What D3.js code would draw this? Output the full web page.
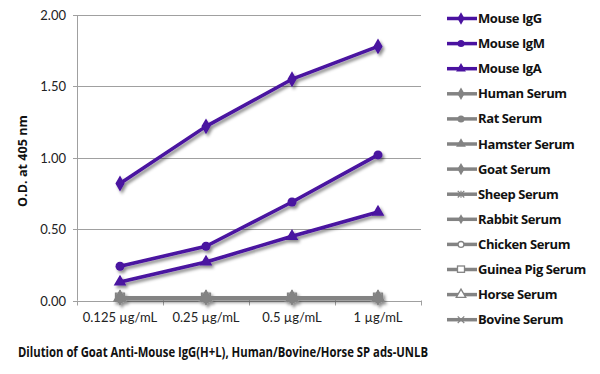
<!DOCTYPE html>
<html>
<head>
<meta charset="utf-8">
<script src="https://cdn.jsdelivr.net/npm/d3@7"></script>
<style>
  body { margin: 0; background: #fff; }
  svg { display: block; font-family: "Lato", "Open Sans", sans-serif; }
  .bold { font-family: "Open Sans", sans-serif; font-weight: bold; }
</style>
</head>
<body>
<svg id="canvas" width="600" height="374"></svg>
<script>
// dilutions on the x axis
let dilutions = ['0.125 µg/mL', '0.25 µg/mL', '0.5 µg/mL', '1 µg/mL'];
let yTicks = [0, 0.5, 1.0, 1.5, 2.0];

// series names, in legend order
let seriesNames = ['Mouse IgG', 'Mouse IgM', 'Mouse IgA', 'Human Serum', 'Rat Serum',
  'Hamster Serum', 'Goat Serum', 'Sheep Serum', 'Rabbit Serum', 'Chicken Serum',
  'Guinea Pig Serum', 'Horse Serum', 'Bovine Serum'];

// O.D. readings
let mouseIgG = [0.82, 1.22, 1.55, 1.78];
let mouseIgM = [0.24, 0.38, 0.69, 1.02];
let mouseIgA = [0.13, 0.27, 0.45, 0.62];
let humanSerum = [0.02, 0.02, 0.02, 0.02];
let ratSerum = [0.02, 0.02, 0.02, 0.02];
let hamsterSerum = [0.02, 0.02, 0.02, 0.02];
let goatSerum = [0.02, 0.02, 0.02, 0.02];
let sheepSerum = [0.02, 0.02, 0.02, 0.02];
let rabbitSerum = [0.02, 0.02, 0.02, 0.02];
let chickenSerum = [0.02, 0.02, 0.02, 0.02];
let guineaPigSerum = [0.02, 0.02, 0.02, 0.02];
let horseSerum = [0.02, 0.02, 0.02, 0.02];
let bovineSerum = [0.02, 0.02, 0.02, 0.02];

let seriesValues = [mouseIgG, mouseIgM, mouseIgA, humanSerum, ratSerum, hamsterSerum,
  goatSerum, sheepSerum, rabbitSerum, chickenSerum, guineaPigSerum, horseSerum, bovineSerum];
let markers = ['diamond', 'circle', 'triangle', 'diamond', 'circle', 'triangle', 'diamond',
  'asterisk', 'smallDiamond', 'openCircle', 'openSquare', 'openTriangle', 'cross'];

let purple = '#4a12a0';
let grey = '#838383';

let canvas = d3.select('#canvas');

let margin = {left: 77, right: 421, top: 15, bottom: 300.5};

let xScale = d3.scaleBand().domain(dilutions).range([margin.left, margin.right]);
let yScale = d3.scaleLinear().domain([0, 2]).range([margin.bottom, margin.top]);

// shadow under lines
let defs = canvas.append('defs');
defs.append('filter').attr('id', 'shadow')
  .attr('x', '-10%').attr('y', '-10%').attr('width', '130%').attr('height', '130%')
  .append('feDropShadow')
  .attr('dx', 2).attr('dy', 2.5).attr('stdDeviation', 1.6)
  .attr('flood-color', '#000').attr('flood-opacity', 0.45);

// gridlines
canvas.append('g')
  .selectAll('line')
  .data(yTicks)
  .enter()
  .append('line')
  .attr('x1', margin.left - 4)
  .attr('x2', margin.right)
  .attr('y1', d => Math.round(yScale(d)) + 0.5)
  .attr('y2', d => Math.round(yScale(d)) + 0.5)
  .attr('stroke', '#a0a0a0')
  .attr('stroke-width', 1);

// y axis line
canvas.append('line')
  .attr('x1', margin.left + 0.5).attr('x2', margin.left + 0.5)
  .attr('y1', yScale(2)).attr('y2', yScale(0))
  .attr('stroke', '#a0a0a0');

// y tick labels
canvas.append('g')
  .selectAll('text')
  .data(yTicks)
  .enter()
  .append('text')
  .attr('x', 66)
  .attr('y', d => yScale(d) + 5)
  .attr('text-anchor', 'end')
  .attr('font-size', 13)
  .attr('fill', '#222')
  .text(d => d.toFixed(2));

// x axis ticks at band edges
let edges = dilutions.map(d => xScale(d)).concat([margin.right]);
canvas.append('g')
  .selectAll('line')
  .data(edges)
  .enter()
  .append('line')
  .attr('x1', d => Math.round(d) + 0.5)
  .attr('x2', d => Math.round(d) + 0.5)
  .attr('y1', yScale(0))
  .attr('y2', yScale(0) + 5)
  .attr('stroke', '#a0a0a0');

canvas.append('g')
  .selectAll('text')
  .data(dilutions)
  .enter()
  .append('text')
  .attr('x', d => xScale(d) + xScale.bandwidth() / 2)
  .attr('y', 322)
  .attr('text-anchor', 'middle')
  .attr('font-size', 13)
  .attr('fill', '#222')
  .text(d => d);

// axis titles
canvas.append('text')
  .attr('class', 'bold')
  .attr('transform', 'translate(27,161) rotate(-90)')
  .attr('text-anchor', 'middle')
  .attr('font-size', 12.5)
  .attr('fill', '#111')
  .attr('textLength', 92)
  .attr('lengthAdjust', 'spacingAndGlyphs')
  .text('O.D. at 405 nm');

canvas.append('text')
  .attr('class', 'bold')
  .attr('x', 18)
  .attr('y', 357)
  .attr('font-size', 13.5)
  .attr('fill', '#111')
  .attr('textLength', 410)
  .attr('lengthAdjust', 'spacingAndGlyphs')
  .text('Dilution of Goat Anti-Mouse IgG(H+L), Human/Bovine/Horse SP ads-UNLB');

// marker drawing
let drawMarker = (g, type, color, s) => {
  if (type === 'diamond') {
    g.append('path').attr('d', d3.symbol(d3.symbolDiamond, s * s * 0.9)()).attr('fill', color);
  } else if (type === 'smallDiamond') {
    g.append('path').attr('d', d3.symbol(d3.symbolDiamond, s * s * 0.6)()).attr('fill', color);
  } else if (type === 'circle') {
    g.append('circle').attr('r', s / 2).attr('fill', color);
  } else if (type === 'triangle') {
    g.append('path').attr('d', d3.symbol(d3.symbolTriangle, s * s * 0.85)()).attr('fill', color);
  } else if (type === 'openCircle') {
    g.append('circle').attr('r', s / 2.4).attr('fill', '#fff').attr('stroke', color).attr('stroke-width', 1.3);
  } else if (type === 'openSquare') {
    g.append('rect').attr('x', -s / 2).attr('y', -s / 2).attr('width', s).attr('height', s * 0.9)
      .attr('fill', '#fff').attr('stroke', color).attr('stroke-width', 1.3);
  } else if (type === 'openTriangle') {
    g.append('path').attr('d', d3.symbol(d3.symbolTriangle, s * s * 0.8)())
      .attr('fill', '#fff').attr('stroke', color).attr('stroke-width', 1.3);
  } else if (type === 'asterisk') {
    g.append('path').attr('d', d3.symbol(d3.symbolTimes, s * s * 0.6)())
      .attr('fill', 'none').attr('stroke', color).attr('stroke-width', 1.2);
    g.append('line').attr('y1', -s / 2).attr('y2', s / 2).attr('stroke', color).attr('stroke-width', 1.2);
  } else if (type === 'cross') {
    g.append('path').attr('d', d3.symbol(d3.symbolTimes, s * s * 0.6)())
      .attr('fill', 'none').attr('stroke', color).attr('stroke-width', 1.2);
  }
};

let line = d3.line()
  .x((d, i) => xScale(dilutions[i]) + xScale.bandwidth() / 2)
  .y(d => yScale(d));

// series, grey first so purple stays on top
let order = d3.range(seriesNames.length).reverse();
let plot = canvas.append('g').attr('filter', 'url(#shadow)');
order.forEach(k => {
  let color = k < 3 ? purple : grey;
  let g = plot.append('g');
  g.append('path')
    .attr('d', line(seriesValues[k]))
    .attr('fill', 'none')
    .attr('stroke', color)
    .attr('stroke-width', 3.5)
    .attr('stroke-linejoin', 'round');
  seriesValues[k].forEach((v, i) => {
    let m = g.append('g')
      .attr('transform', 'translate(' + (xScale(dilutions[i]) + xScale.bandwidth() / 2) + ',' + yScale(v) + ')');
    drawMarker(m, markers[k], color, 9);
  });
});

// legend
let legend = canvas.append('g');
seriesNames.forEach((name, k) => {
  let color = k < 3 ? purple : grey;
  let y = 18.5 + k * 25.1;
  let row = legend.append('g').attr('transform', 'translate(0,' + y + ')');
  row.append('line')
    .attr('x1', 447).attr('x2', 477)
    .attr('stroke', color).attr('stroke-width', 3.5);
  let m = row.append('g').attr('transform', 'translate(461,0)');
  drawMarker(m, markers[k], color, 7);
  row.append('text')
    .attr('class', 'bold')
    .attr('x', 478)
    .attr('y', 4.5)
    .attr('font-size', 13)
    .attr('letter-spacing', -0.4)
    .attr('fill', '#111')
    .text(name);
});
</script>
</body>
</html>
